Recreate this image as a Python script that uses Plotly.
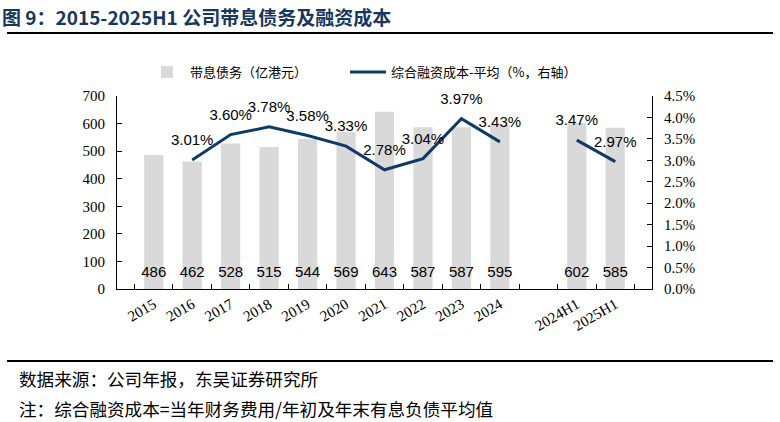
import plotly.graph_objects as go

categories = ["2015", "2016", "2017", "2018", "2019", "2020", "2021", "2022", "2023", "2024", " ", "2024H1", "2025H1"]
debt = [486, 462, 528, 515, 544, 569, 643, 587, 587, 595, None, 602, 585]
cost = [None, 3.01, 3.60, 3.78, 3.58, 3.33, 2.78, 3.04, 3.97, 3.43, None, 3.47, 2.97]

BAR_COLOR = "#D9D9D9"
LINE_COLOR = "#0D3B66"
SERIF = "Liberation Serif"
SANS = "Liberation Sans"
CJK = "Noto Sans CJK SC"

fig = go.Figure()
fig.add_trace(go.Bar(
    x=categories, y=debt, name="带息债务（亿港元）",
    marker=dict(color=BAR_COLOR, line=dict(width=0)),
    width=0.5, showlegend=True, legend="legend",
))
label_y = 58
fig.add_trace(go.Scatter(
    x=[c for c, v in zip(categories, debt) if v is not None],
    y=[label_y for v in debt if v is not None],
    text=[str(v) for v in debt if v is not None],
    mode="text", textposition="middle center",
    textfont=dict(family=SANS, size=15, color="black"),
    showlegend=False, hoverinfo="skip",
))
fig.add_trace(go.Scatter(
    x=categories, y=[v / 100 if v is not None else None for v in cost],
    name="综合融资成本-平均（%，右轴）", yaxis="y2",
    mode="lines+markers+text",
    line=dict(color=LINE_COLOR, width=3),
    marker=dict(size=16, color="rgba(0,0,0,0)"),
    text=[f"{v:.2f}%" if v is not None else "" for v in cost],
    textposition="top center",
    textfont=dict(family=SANS, size=15, color="black"),
    connectgaps=False, cliponaxis=False, legend="legend2",
))

legend_common = dict(
    orientation="h", y=1 + (96 - 72) / 193, xanchor="left", yanchor="middle",
    font=dict(family=CJK, size=13, color="black"),
    bgcolor="rgba(0,0,0,0)", itemwidth=36,
)

fig.update_layout(
    width=780, height=422,
    margin=dict(l=117, r=128, t=96, b=133, autoexpand=False),
    paper_bgcolor="white", plot_bgcolor="white",
    font=dict(family=CJK, color="black"),
    bargap=0.5,
    xaxis=dict(
        type="category", categoryorder="array", categoryarray=categories,
        showline=True, linecolor="black", linewidth=1,
        ticks="inside", tickson="boundaries", ticklen=5, tickcolor="black",
        tickangle=-30, tickfont=dict(family=SERIF, size=15, color="black"),
        showgrid=False, automargin=False,
    ),
    yaxis=dict(
        range=[0, 700], dtick=100, showgrid=False, zeroline=False,
        showline=True, linecolor="black", linewidth=1,
        ticks="inside", ticklen=5, tickcolor="black",
        tickfont=dict(family=SERIF, size=15, color="black"),
        ticklabelstandoff=8,
        automargin=False,
    ),
    yaxis2=dict(
        overlaying="y", side="right", range=[0, 0.045], dtick=0.005,
        tickformat=".1%", showgrid=False, zeroline=False,
        showline=True, linecolor="black", linewidth=1,
        ticks="inside", ticklen=5, tickcolor="black",
        tickfont=dict(family=SERIF, size=15, color="black"),
        ticklabelstandoff=8,
        automargin=False,
    ),
    legend=dict(x=(144 - 117) / 535, **legend_common),
    legend2=dict(x=(345 - 117) / 535, **legend_common),
    showlegend=True,
)

fig.add_annotation(
    text="<b>图 9：2015-2025H1 公司带息债务及融资成本</b>",
    xref="paper", yref="paper", x=-117 / 535, y=1 + (96 - 17) / 193,
    xanchor="left", yanchor="middle", showarrow=False,
    font=dict(family=CJK, size=19, color="#17375E"),
)
fig.add_shape(type="line", xref="paper", yref="paper",
              x0=-110 / 535, x1=(773 - 117) / 535,
              y0=1 + (96 - 33) / 193, y1=1 + (96 - 33) / 193,
              line=dict(color="black", width=2))
fig.add_shape(type="line", xref="paper", yref="paper",
              x0=-110 / 535, x1=(773 - 117) / 535,
              y0=-(361 - 289) / 193, y1=-(361 - 289) / 193,
              line=dict(color="black", width=2))
fig.add_annotation(
    text="数据来源：公司年报，东吴证券研究所",
    xref="paper", yref="paper", x=-100 / 535, y=-(378 - 289) / 193,
    xanchor="left", yanchor="middle", showarrow=False,
    font=dict(family=CJK, size=17.6, color="black"),
)
fig.add_annotation(
    text="注：综合融资成本=当年财务费用/年初及年末有息负债平均值",
    xref="paper", yref="paper", x=-100 / 535, y=-(408 - 289) / 193,
    xanchor="left", yanchor="middle", showarrow=False,
    font=dict(family=CJK, size=17.6, color="black"),
)

fig.write_html(
    "out.html",
    config={"displayModeBar": False},
    post_script="document.body.style.margin='0';document.body.style.overflow='hidden';",
)
